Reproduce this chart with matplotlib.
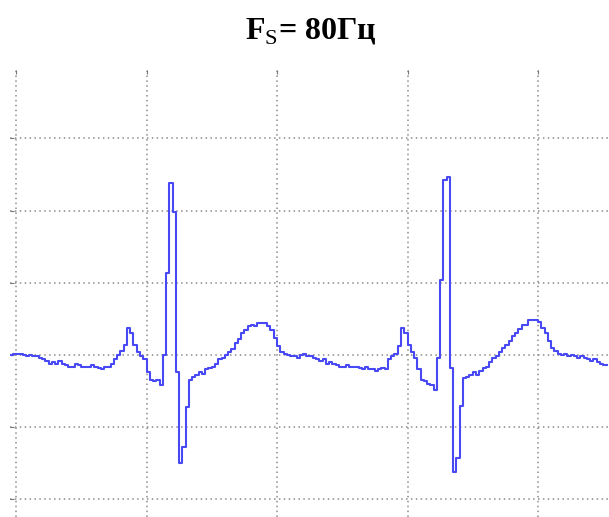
import numpy as np
import matplotlib.pyplot as plt

fs = 80  # sampling rate, Hz
t0 = -0.025  # time of the first sample, s

# ECG samples (mV) taken at fs, held until the next sample
ecg = [
    0.00, 0.01, 0.01, 0.01, 0.00, -0.01, 0.00, -0.01, -0.01, -0.02,
    -0.03, -0.04, -0.06, -0.05, -0.06, -0.04, -0.06, -0.07, -0.08, -0.08,
    -0.06, -0.07, -0.08, -0.08, -0.08, -0.07, -0.08, -0.09, -0.10, -0.08,
    -0.08, -0.06, -0.03, 0.00, 0.03, 0.07, 0.19, 0.15, 0.07, 0.02,
    -0.01, -0.03, -0.12, -0.17, -0.18, -0.17, -0.21, 0.00, 0.57, 1.19,
    0.99, -0.12, -0.75, -0.64, -0.36, -0.17, -0.15, -0.14, -0.12, -0.13,
    -0.10, -0.09, -0.08, -0.06, -0.03, -0.02, 0.00, 0.02, 0.04, 0.08,
    0.11, 0.15, 0.17, 0.20, 0.21, 0.20, 0.22, 0.22, 0.22, 0.20,
    0.17, 0.12, 0.06, 0.02, 0.01, 0.00, -0.01, -0.01, -0.02, 0.00,
    0.01, -0.01, -0.01, -0.02, -0.03, -0.04, -0.03, -0.06, -0.05, -0.06,
    -0.07, -0.08, -0.08, -0.07, -0.08, -0.08, -0.08, -0.09, -0.10, -0.08,
    -0.10, -0.10, -0.11, -0.10, -0.09, -0.10, -0.03, -0.01, 0.01, 0.06,
    0.19, 0.15, 0.07, 0.02, -0.02, -0.10, -0.17, -0.18, -0.20, -0.21,
    -0.24, -0.02, 0.52, 1.21, 1.23, -0.09, -0.81, -0.71, -0.35, -0.16,
    -0.15, -0.14, -0.12, -0.14, -0.11, -0.09, -0.08, -0.05, -0.02, -0.01,
    0.02, 0.05, 0.07, 0.10, 0.13, 0.15, 0.18, 0.21, 0.21, 0.24,
    0.24, 0.24, 0.23, 0.19, 0.15, 0.10, 0.05, 0.03, 0.01, 0.00,
    0.01, -0.01, 0.00, -0.01, -0.02, -0.01, -0.02, -0.03, -0.04, -0.03,
    -0.05, -0.06, -0.07, -0.07,
]
x_ticks = [0.0, 0.5, 1.0, 1.5, 2.0]
y_ticks = [-1.0, -0.5, 0.0, 0.5, 1.0, 1.5]

t = t0 + np.arange(len(ecg)) / fs

plt.rcParams['mathtext.fontset'] = 'custom'
plt.rcParams['mathtext.rm'] = 'Liberation Serif'
plt.rcParams['mathtext.bf'] = 'Liberation Serif:bold'

fig = plt.figure(figsize=(6.09, 5.17), dpi=100)
ax = fig.add_axes([10 / 609, 0.0, 599 / 609, 1 - 70 / 517])

ax.step(t, ecg, where='post', color='#4848f5', lw=1.5, solid_joinstyle='round')

ax.set_xlim(-0.023, 2.272)
ax.set_ylim(-1.122, 1.974)
ax.set_xticks(x_ticks)
ax.set_yticks(y_ticks)
ax.grid(True, color='#8c8c8c', linestyle=(0, (1, 2.2)), linewidth=1.1)
ax.tick_params(left=True, top=True, bottom=False, right=False,
               labelleft=False, labelbottom=False,
               direction='in', length=3, color='#777777')
for s in ax.spines.values():
    s.set_visible(False)

fig.text(0.510, 1 - 39 / 517, r"$\mathbf{F}_{\mathrm{S}}$= 80Гц",
         ha='center', va='baseline', fontsize=23, fontweight='bold',
         family='Liberation Serif')

fig.savefig('out.png', dpi=100)
